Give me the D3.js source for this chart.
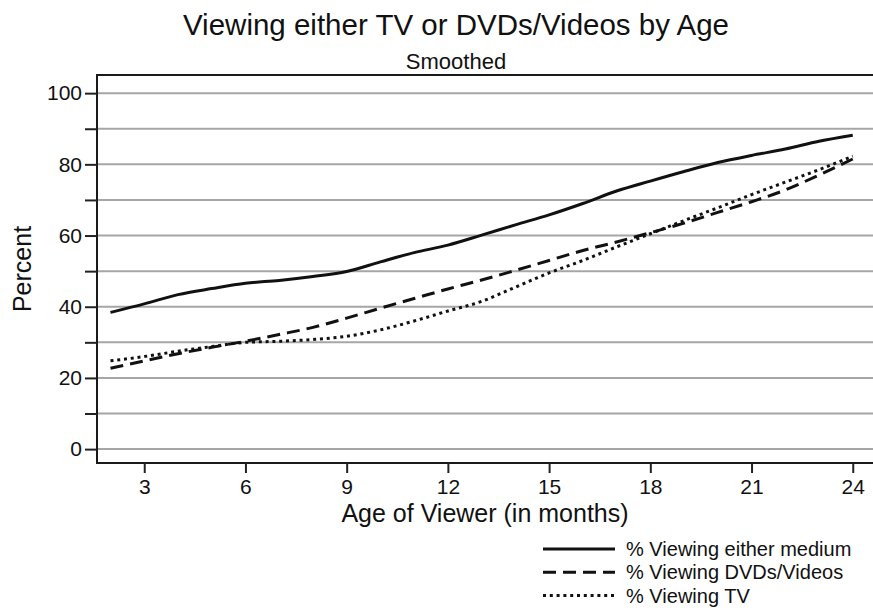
<!DOCTYPE html>
<meta charset="utf-8">
<title>Viewing either TV or DVDs/Videos by Age</title>
<style>
body { margin: 0; background: #fff; }
text { font-family: "Liberation Sans", Arial, sans-serif; fill: #111; }
.grid line { stroke: #a6a6a6; stroke-width: 2; }
.frame { fill: none; stroke: #1a1a1a; stroke-width: 2; }
.series { fill: none; stroke: #111; stroke-width: 3; }
</style>
<body>
<div id="chart"></div>
<script src="https://cdn.jsdelivr.net/npm/d3@7"></script>
<script>
// age in months
var months = [2, 3, 4, 5, 6, 7, 8, 9, 10, 11, 12, 13, 14, 15, 16, 17, 18, 19, 20, 21, 22, 23, 24];

// smoothed percentages
var either = [38.4, 40.8, 43.4, 45.1, 46.6, 47.4, 48.5, 49.9, 52.6, 55.2, 57.3, 60.1, 63.0, 65.8, 69.0, 72.5, 75.3, 78.0, 80.5, 82.5, 84.3, 86.5, 88.2];
var dvds   = [22.7, 24.8, 26.8, 28.6, 30.3, 32.2, 34.2, 36.8, 39.6, 42.3, 45.0, 47.5, 50.2, 53.0, 55.8, 58.2, 60.8, 63.5, 66.5, 69.5, 72.8, 77.0, 81.5];
var tv     = [24.8, 26.0, 27.5, 28.8, 30.0, 30.3, 30.8, 31.7, 33.5, 36.0, 38.8, 41.5, 45.5, 49.5, 53.0, 56.8, 60.5, 64.2, 67.8, 71.5, 75.0, 78.5, 82.3];

var xTicks = [3, 6, 9, 12, 15, 18, 21, 24];
var yTicks = [0, 10, 20, 30, 40, 50, 60, 70, 80, 90, 100];
var yLabels = [0, 20, 40, 60, 80, 100];

var seriesNames = ["% Viewing either medium", "% Viewing DVDs/Videos", "% Viewing TV"];
var seriesDash = [null, "13,7", "3,3.8"];

var W = 873, H = 608;
var margin = {top: 75, right: 0, bottom: 145, left: 97};

var svg = d3.select("#chart").append("svg")
    .attr("width", W)
    .attr("height", H);

var x = d3.scaleLinear().domain([1.6, 24.6]).range([margin.left, W - margin.right]);
var y = d3.scaleLinear().domain([-3.9, 105.1]).range([H - margin.bottom, margin.top]);

// horizontal grid
svg.append("g").attr("class", "grid")
  .selectAll("line").data(yTicks).enter().append("line")
    .attr("x1", margin.left).attr("x2", W)
    .attr("y1", function(d) { return y(d); })
    .attr("y2", function(d) { return y(d); });

// frame (right side sits on the picture edge)
svg.append("rect").attr("class", "frame")
    .attr("x", margin.left).attr("y", margin.top)
    .attr("width", W - margin.left + 2)
    .attr("height", y.range()[0] - margin.top);

// y axis
var yAxis = d3.axisLeft(y).tickValues(yTicks).tickSize(12).tickPadding(3)
    .tickFormat(function(d) { return yLabels.indexOf(d) >= 0 ? d : ""; });
var gy = svg.append("g").attr("transform", "translate(" + margin.left + ",0)").call(yAxis);
gy.select(".domain").remove();
gy.selectAll(".tick line").attr("stroke", "#222").attr("stroke-width", 2);
gy.selectAll(".tick text").style("font-size", "21px").attr("fill", "#111");

// x axis
var xAxis = d3.axisBottom(x).tickValues(xTicks).tickSize(10).tickPadding(6);
var gx = svg.append("g").attr("transform", "translate(0," + y.range()[0] + ")").call(xAxis);
gx.select(".domain").remove();
gx.selectAll(".tick line").attr("stroke", "#222").attr("stroke-width", 2);
gx.selectAll(".tick text").style("font-size", "21px").attr("fill", "#111");

// lines
var line = d3.line()
    .x(function(d) { return x(d[0]); })
    .y(function(d) { return y(d[1]); })
    .curve(d3.curveMonotoneX);

[either, dvds, tv].forEach(function(vals, i) {
  svg.append("path")
      .datum(d3.zip(months, vals))
      .attr("class", "series")
      .attr("stroke-dasharray", seriesDash[i])
      .attr("d", line);
});

// titles
var tx = 456;
svg.append("text").attr("x", tx).attr("y", 35).attr("text-anchor", "middle")
    .style("font-size", "29.5px").text("Viewing either TV or DVDs/Videos by Age");
svg.append("text").attr("x", tx).attr("y", 69).attr("text-anchor", "middle")
    .style("font-size", "22px").text("Smoothed");

// axis titles
var cx = (margin.left + W) / 2;
svg.append("text").attr("x", cx).attr("y", 522).attr("text-anchor", "middle")
    .style("font-size", "25px").text("Age of Viewer (in months)");
svg.append("text")
    .attr("transform", "translate(31," + ((margin.top + y.range()[0]) / 2) + ") rotate(-90)")
    .attr("text-anchor", "middle")
    .style("font-size", "25px").text("Percent");

// legend
var lg = svg.append("g").attr("transform", "translate(543,549)");
seriesNames.forEach(function(name, i) {
  var row = lg.append("g").attr("transform", "translate(0," + (i * 23.3) + ")");
  row.append("line").attr("class", "series")
      .attr("x1", 0).attr("x2", 72).attr("y1", 0).attr("y2", 0)
      .attr("stroke-dasharray", seriesDash[i]);
  row.append("text").attr("x", 83).attr("y", 7)
      .style("font-size", "20px").text(name);
});
</script>
</body>
